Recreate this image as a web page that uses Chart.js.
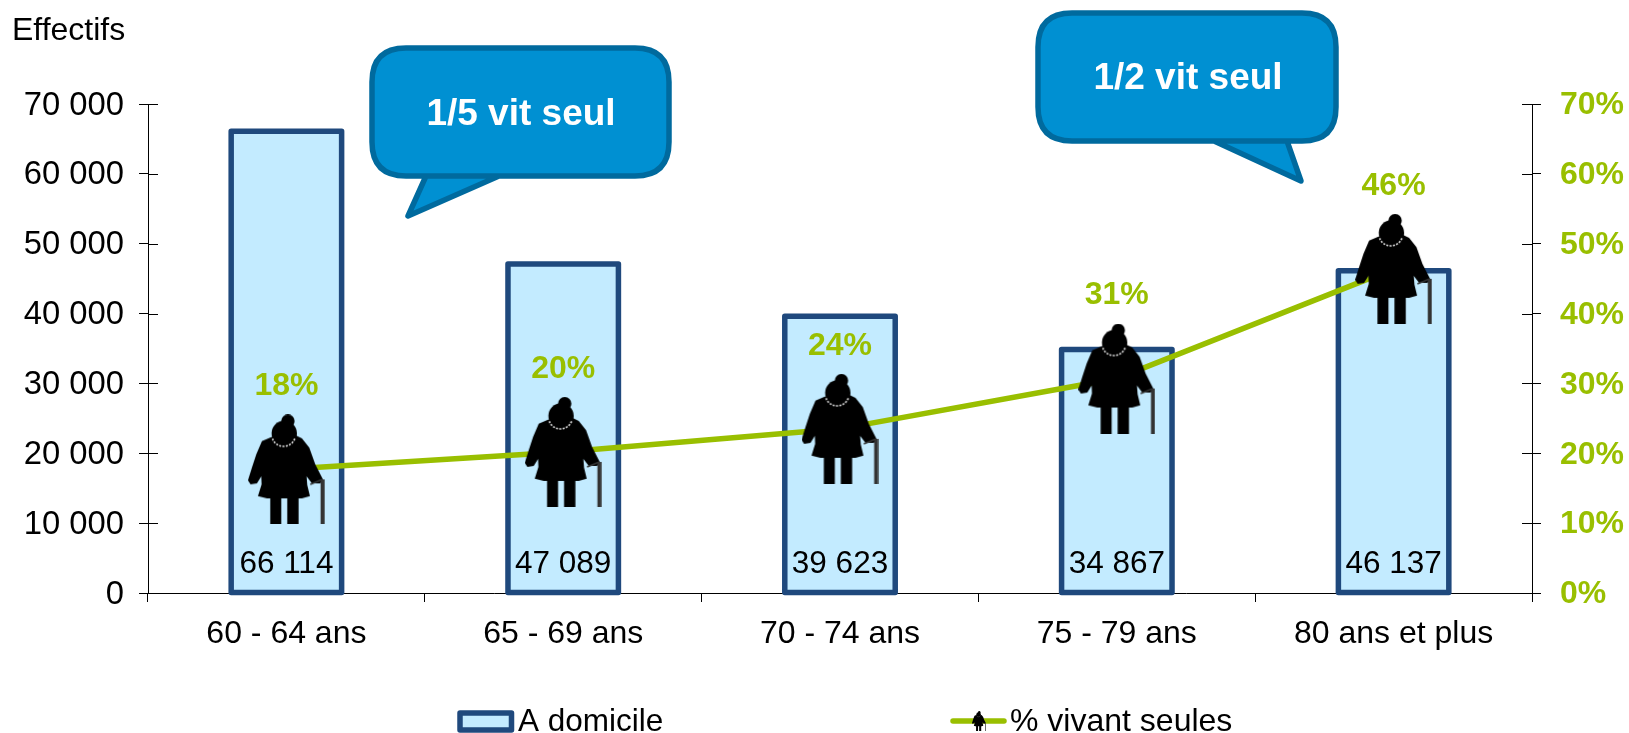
<!DOCTYPE html>
<html>
<head>
<meta charset="utf-8">
<title>Effectifs</title>
<script src="https://cdn.jsdelivr.net/npm/chart.js@4/dist/chart.umd.min.js"></script>
<style>
html, body { margin: 0; padding: 0; background: #fff; overflow: hidden; }
canvas { display: block; }
</style>
</head>
<body>
<canvas id="mycanvas" width="1629" height="733"></canvas>
<script>
var categories = ['60 - 64 ans', '65 - 69 ans', '70 - 74 ans', '75 - 79 ans', '80 ans et plus'];
var aDomicile = [66114, 47089, 39623, 34867, 46137];
var vivantSeules = [17.7, 20.2, 23.5, 30.7, 46.4];

var FONT = '"Liberation Sans", Arial, sans-serif';
var BLUE = '#1F497D', LIGHT = '#C3EBFF', GREEN = '#99BF00';

function thousands(v) {
	return String(v).replace(/\B(?=(\d{3})+$)/g, ' ');
}

// silhouette, drawn in a 230 x 330 box then scaled to the wanted height
function makeWoman(h) {
	var s = h / 330;
	var cv = document.createElement('canvas');
	cv.width = Math.ceil(230 * s);
	cv.height = Math.ceil(h);
	var c = cv.getContext('2d');
	c.scale(s, s);
	c.translate(-108, -40);
	c.fillStyle = '#000';
	c.beginPath();
	c.arc(228, 60, 20, 0, Math.PI * 2);
	c.fill();
	c.beginPath();
	c.arc(217, 97, 38, 0, Math.PI * 2);
	c.fill();
	var coat = [[178, 108], [150, 120], [133, 160], [120, 200], [108, 238], [116, 250], [135, 247], [148, 226],
		[149, 250], [138, 285], [165, 292], [270, 292], [294, 285], [286, 252], [284, 226],
		[300, 247], [325, 247], [333, 235], [310, 190], [292, 140], [270, 112], [250, 102]];
	c.beginPath();
	coat.forEach(function(p, i) {
		if (i === 0) c.moveTo(p[0], p[1]); else c.lineTo(p[0], p[1]);
	});
	c.closePath();
	c.fill();
	c.fillRect(175, 285, 33, 85);
	c.fillRect(226, 285, 34, 85);
	c.fillStyle = '#333';
	c.fillRect(326, 235, 12, 135);
	c.strokeStyle = '#333';
	c.lineWidth = 5;
	c.beginPath();
	c.moveTo(295, 250);
	c.lineTo(330, 236);
	c.stroke();
	c.strokeStyle = '#dcdcdc';
	c.lineWidth = 5;
	c.setLineDash([6, 4]);
	c.beginPath();
	c.arc(215, 100, 36, Math.PI * 0.12, Math.PI * 0.88);
	c.stroke();
	return cv;
}

function drawCallout(c, box, tail, text, tx, ty) {
	var r = 34;
	c.save();
	c.beginPath();
	c.moveTo(box.l + r, box.t);
	c.lineTo(box.r - r, box.t);
	c.quadraticCurveTo(box.r, box.t, box.r, box.t + r);
	c.lineTo(box.r, box.b - r);
	c.quadraticCurveTo(box.r, box.b, box.r - r, box.b);
	c.lineTo(tail[0], box.b);
	c.lineTo(tail[2], tail[3]);
	c.lineTo(tail[1], box.b);
	c.lineTo(box.l + r, box.b);
	c.quadraticCurveTo(box.l, box.b, box.l, box.b - r);
	c.lineTo(box.l, box.t + r);
	c.quadraticCurveTo(box.l, box.t, box.l + r, box.t);
	c.closePath();
	c.fillStyle = '#0090D2';
	c.fill();
	c.lineWidth = 5.5;
	c.lineJoin = 'round';
	c.strokeStyle = '#006A9E';
	c.stroke();
	c.fillStyle = '#fff';
	c.font = 'bold 37px ' + FONT;
	c.textAlign = 'center';
	c.textBaseline = 'middle';
	c.fillText(text, tx, ty);
	c.restore();
}

var extras = {
	id: 'extras',
	// bar outline sits centred on the bar edge, so it is stroked here
	afterDatasetDraw: function(chart, args) {
		if (args.index !== 1) return;
		var c = chart.ctx;
		c.save();
		c.strokeStyle = BLUE;
		c.lineWidth = 5.5;
		c.lineJoin = 'round';
		args.meta.data.forEach(function(bar) {
			c.strokeRect(bar.x - bar.width / 2, bar.y, bar.width, bar.base - bar.y);
		});
		c.restore();
	},
	afterDatasetsDraw: function(chart) {
		var c = chart.ctx;
		var yL = chart.scales.y, yR = chart.scales.y2, x = chart.scales.x;
		c.save();

		// inner half of the axis ticks
		c.strokeStyle = '#000';
		c.lineWidth = 1;
		yL.ticks.forEach(function(t) {
			var p = Math.round(yL.getPixelForValue(t.value)) + 0.5;
			c.beginPath();
			c.moveTo(yL.right, p);
			c.lineTo(yL.right + 10, p);
			c.stroke();
			c.beginPath();
			c.moveTo(yR.left - 10, p);
			c.lineTo(yR.left, p);
			c.stroke();
		});

		// bar values
		c.fillStyle = '#000';
		c.font = '31.5px ' + FONT;
		c.textAlign = 'center';
		c.textBaseline = 'middle';
		aDomicile.forEach(function(v, i) {
			c.fillText(thousands(v), x.getPixelForValue(i), yL.bottom - 29);
		});

		// percentages above the markers
		c.fillStyle = GREEN;
		c.font = 'bold 32px ' + FONT;
		vivantSeules.forEach(function(v, i) {
			c.fillText(Math.round(v) + '%', x.getPixelForValue(i), yR.getPixelForValue(v) - 83);
		});

		// axis title
		c.fillStyle = '#000';
		c.font = '32px ' + FONT;
		c.textAlign = 'left';
		c.fillText('Effectifs', 12, 31);

		// legend
		c.textBaseline = 'alphabetic';
		c.fillStyle = LIGHT;
		c.strokeStyle = BLUE;
		c.lineWidth = 5.5;
		c.lineJoin = 'round';
		c.fillRect(460, 713, 51.5, 17);
		c.strokeRect(460, 713, 51.5, 17);
		c.fillStyle = '#000';
		c.font = '31.5px ' + FONT;
		c.fillText('A domicile', 518, 731);
		c.strokeStyle = GREEN;
		c.lineWidth = 5.5;
		c.lineCap = 'round';
		c.beginPath();
		c.moveTo(953, 721);
		c.lineTo(1004, 721);
		c.stroke();
		c.drawImage(makeWoman(20), 972, 711);
		c.fillStyle = '#000';
		c.font = '32px ' + FONT;
		c.fillText('% vivant seules', 1010, 731);
		c.restore();

		drawCallout(c, {l: 372, r: 669, t: 48, b: 176}, [426, 499, 408, 216], '1/5 vit seul', 521, 115);
		drawCallout(c, {l: 1038, r: 1336, t: 13, b: 141}, [1214, 1287, 1301, 181], '1/2 vit seul', 1188, 79);
	}
};

var chartdata = {
	labels: categories,
	datasets: [
		{
			type: 'line',
			label: '% vivant seules',
			data: vivantSeules,
			yAxisID: 'y2',
			order: 1,
			borderColor: GREEN,
			backgroundColor: GREEN,
			borderWidth: 5.5,
			tension: 0,
			fill: false,
			pointStyle: makeWoman(110),
			pointRadius: 38
		},
		{
			type: 'bar',
			label: 'A domicile',
			data: aDomicile,
			yAxisID: 'y',
			order: 2,
			backgroundColor: LIGHT,
			borderWidth: 0,
			barPercentage: 0.399,
			categoryPercentage: 1
		}
	]
};

new Chart(document.getElementById('mycanvas'), {
	type: 'bar',
	data: chartdata,
	plugins: [extras],
	options: {
		responsive: false,
		animation: false,
		layout: { padding: { top: 104, left: 0, right: 0, bottom: 0 } },
		plugins: {
			legend: { display: false },
			title: { display: false },
			tooltip: { enabled: false }
		},
		scales: {
			x: {
				afterFit: function(s) { s.height = 140; },
				border: { color: '#000', width: 1 },
				grid: { display: true, drawOnChartArea: false, color: '#000', tickLength: 9 },
				ticks: { color: '#000', padding: 13, font: { family: FONT, size: 32 }, maxRotation: 0 }
			},
			y: {
				position: 'left',
				min: 0,
				max: 70000,
				afterFit: function(s) { s.width = 148; },
				border: { color: '#000', width: 1 },
				grid: { display: true, drawOnChartArea: false, color: '#000', tickLength: 9 },
				ticks: {
					stepSize: 10000,
					color: '#000',
					padding: 15,
					labelOffset: 1.5,
					font: { family: FONT, size: 32.8 },
					callback: function(v) { return thousands(v); }
				}
			},
			y2: {
				position: 'right',
				min: 0,
				max: 70,
				afterFit: function(s) { s.width = 97; },
				border: { color: '#000', width: 1 },
				grid: { display: true, drawOnChartArea: false, color: '#000', tickLength: 9 },
				ticks: {
					stepSize: 10,
					color: GREEN,
					padding: 19,
					labelOffset: 1.5,
					font: { family: FONT, size: 32, weight: 'bold' },
					callback: function(v) { return v + '%'; }
				}
			}
		}
	}
});
</script>
</body>
</html>
